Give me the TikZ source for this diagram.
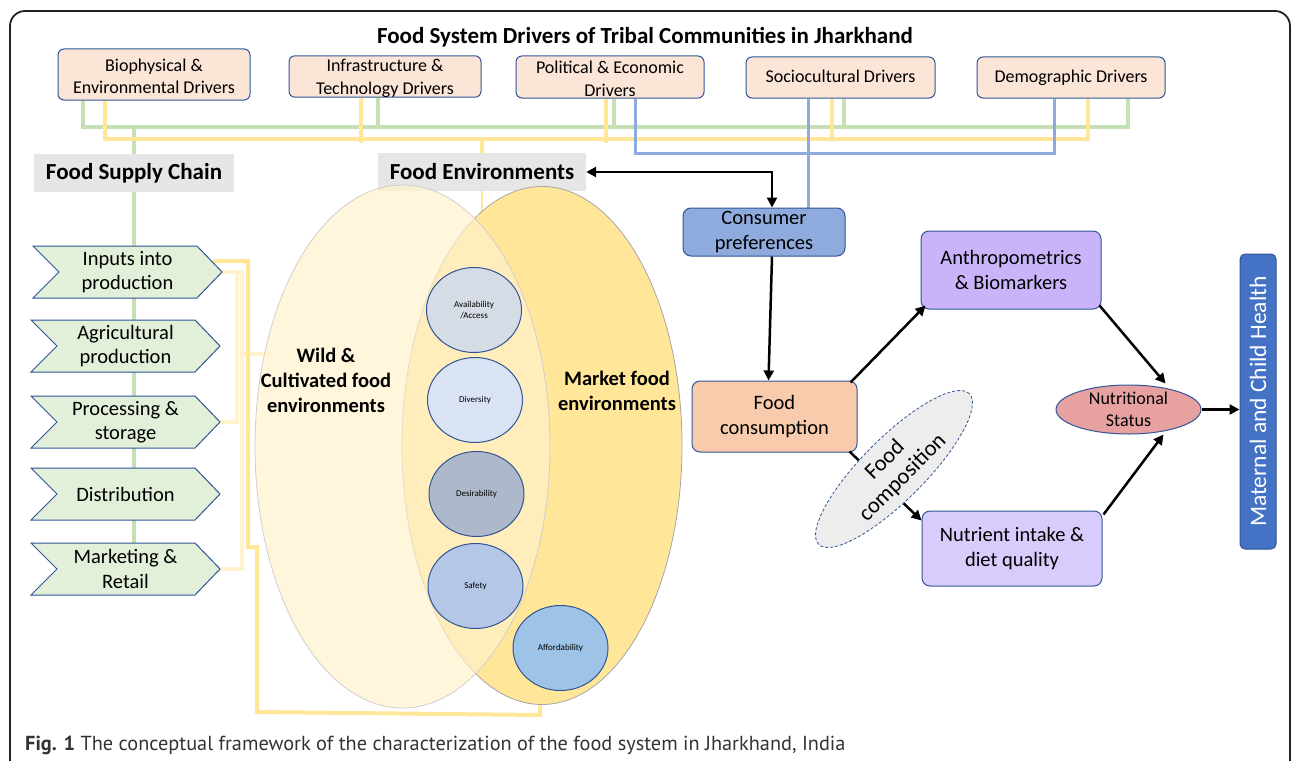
\documentclass[tikz,border=0pt]{standalone}
\usepackage{fontspec}
\setmainfont{Carlito}
\newfontfamily\capfont{PT Sans}
\usetikzlibrary{arrows.meta,shapes.geometric,calc}
\pgfdeclarelayer{bg}
\pgfsetlayers{bg,main}
\definecolor{drvfill}{HTML}{FBE5D6}
\definecolor{bord}{HTML}{2F5597}
\definecolor{chevfill}{HTML}{E2F0D9}
\definecolor{grnline}{HTML}{C5E0B4}
\definecolor{ylwline}{HTML}{FFE699}
\definecolor{ylwpale}{HTML}{FFF2CC}
\definecolor{bluline}{HTML}{8FAADC}
\definecolor{greylbl}{HTML}{E7E6E6}
\definecolor{wildfill}{HTML}{FFF2CC}
\definecolor{wildborder}{HTML}{D0CECE}
\definecolor{mktfill}{HTML}{FFE699}
\definecolor{mktborder}{HTML}{A6A6A6}
\definecolor{avfill}{HTML}{D6DCE5}
\definecolor{divfill}{HTML}{DAE3F3}
\definecolor{desfill}{HTML}{ADB9CA}
\definecolor{saffill}{HTML}{B4C7E7}
\definecolor{afffill}{HTML}{9DC3E6}
\definecolor{cpfill}{HTML}{8FAADC}
\definecolor{fcfill}{HTML}{F8CBAD}
\definecolor{anthfill}{HTML}{C9B4FA}
\definecolor{nutfill}{HTML}{D9CBFB}
\definecolor{nsfill}{HTML}{E7A1A1}
\definecolor{mchfill}{HTML}{4472C4}
\definecolor{compfill}{HTML}{EDEDED}
\definecolor{framecol}{HTML}{222222}
\definecolor{capcol}{HTML}{333333}
\newcommand\mychev[4]{%
  \draw[chevst] (#2,#3) -- ++(164,0) -- ++(25,26) -- ++(-25,26) -- ++(-164,0) -- ++(26,-26) -- cycle;
  \node[chevtxt] (#1) at ({#2+94.5},{#3+26}) {#4};}
\begin{document}
\begin{tikzpicture}[x=1pt,y=-1pt,
  titlest/.style={inner sep=0pt, font=\bfseries\fontsize{23}{28}\selectfont},
  drv/.style={draw=bord, fill=drvfill, rounded corners=6pt, line width=1pt, inner sep=0pt, align=center, font=\fontsize{18}{22.5}\selectfont},
  lbl/.style={fill=greylbl, inner sep=0pt, font=\bfseries\fontsize{23}{28}\selectfont},
  chevst/.style={draw=bord, fill=chevfill, line width=1pt},
  chevtxt/.style={inner sep=0pt, minimum width=189pt, minimum height=52pt, align=center, font=\fontsize{20.5}{24.5}\selectfont},
  grn/.style={draw=grnline, line width=4pt},
  ylw/.style={draw=ylwline, line width=4pt},
  ylwp/.style={draw=ylwpale, line width=4pt},
  blu/.style={draw=bluline, line width=3pt},
  envlbl/.style={inner sep=0pt, align=center, font=\bfseries\fontsize{20.5}{25}\selectfont},
  fact/.style={ellipse, draw=bord, line width=1pt, minimum width=95pt, minimum height=85pt, inner sep=0pt, align=center, font=\fontsize{9}{11}\selectfont},
  box/.style={draw=bord, rounded corners=8pt, line width=1pt, align=center, inner sep=0pt, font=\fontsize{20.5}{25}\selectfont},
  arr/.style={line width=2.5pt, -{Triangle[length=10pt,width=10pt]}},
  arrboth/.style={line width=2.5pt, {Triangle[length=10pt,width=10pt]}-{Triangle[length=10pt,width=10pt]}}
]
\useasboundingbox (0,0) rectangle (1295,760);
\clip (0,0) rectangle (1295,760);
\draw[line width=1.8pt, draw=framecol, rounded corners=15pt] (10,11) rectangle (1290,800);

% title and drivers
\node[titlest] (title) at (645,37) {Food System Drivers of Tribal Communities in Jharkhand};
\node[drv, minimum width=192pt, minimum height=51pt] (d1) at (154,74.5) {\strut Biophysical \&\\Environmental Drivers};
\node[drv, minimum width=192pt, minimum height=41pt] (d2) at (385,76.5) {\strut Infrastructure \&\\Technology Drivers};
\node[drv, minimum width=188pt, minimum height=42pt] (d3) at (610,77) {\strut Political \& Economic\\Drivers};
\node[drv, minimum width=189pt, minimum height=41pt] (d4) at (840.5,77.5) {\strut Sociocultural Drivers};
\node[drv, minimum width=188pt, minimum height=41pt] (d5) at (1071,77.5) {\strut Demographic Drivers};

% section labels
\node[lbl, minimum width=200pt, minimum height=38pt] (fsc) at (134,173) {Food Supply Chain};
\node[lbl, minimum width=208pt, minimum height=38pt] (fe) at (482,172) {Food Environments};

% supply chain
\mychev{c1}{33}{246}{Inputs into\\production}
\mychev{c2}{31}{320}{Agricultural\\production}
\mychev{c3}{31}{396}{Processing \&\\storage}
\mychev{c4}{31}{468}{Distribution}
\mychev{c5}{31}{543}{Marketing \&\\Retail}

% food environments
\node[ellipse, draw=mktborder, fill=mktfill, line width=0.8pt, minimum width=280pt, minimum height=518pt, inner sep=0pt] (mkt) at (542,445.5) {};
\node[ellipse, draw=wildborder, fill=wildfill, fill opacity=0.7, line width=0.8pt, minimum width=295pt, minimum height=523pt, inner sep=0pt] (wild) at (402.5,446.5) {};
\node[envlbl] (wildlbl) at (326,380.5) {Wild \&\\Cultivated food\\environments};
\node[envlbl] (mktlbl) at (617,390.5) {Market food\\environments};
\node[fact, fill=avfill] (av) at (474,310) {Availability\\/Access};
\node[fact, fill=divfill] (div) at (475,400) {Diversity};
\node[fact, fill=desfill] (des) at (476.5,494) {Desirability};
\node[fact, fill=saffill] (saf) at (475.5,586) {Safety};
\node[fact, fill=afffill] (aff) at (560.5,648) {Affordability};

% right side
\node[box, fill=cpfill, minimum width=162pt, minimum height=48pt] (cp) at (764,232) {Consumer\\preferences};
\node[box, fill=fcfill, minimum width=165pt, minimum height=71pt] (fc) at (774.5,416.5) {Food\\consumption};
\node[box, fill=anthfill, minimum width=180pt, minimum height=78pt] (anth) at (1011,270) {Anthropometrics\\\& Biomarkers};
\node[box, fill=nutfill, minimum width=180pt, minimum height=75pt] (nut) at (1012,548.5) {Nutrient intake \&\\diet quality};
\node[ellipse, draw=bord, fill=nsfill, line width=1pt, minimum width=145pt, minimum height=49pt, inner sep=0pt, align=center, font=\fontsize{18}{22}\selectfont] (ns) at (1128.5,409.5) {Nutritional\\Status};
\node[draw=bord, fill=mchfill, rounded corners=5pt, line width=1pt, rotate=90, minimum width=295pt, minimum height=36pt, inner sep=0pt, text=white, font=\fontsize{23.5}{28}\selectfont] (mch) at (1258,401.5) {Maternal and Child Health};

% connector buses (background)
\begin{pgfonlayer}{bg}
\draw[grn] ($(d1.south west)+(25,0)$) |- ($(d5.south west)+(151,28)$) -- ($(d5.south west)+(151,0)$);
\draw[grn] ($(d2.south west)+(89,0)$) -- ++(0,29);
\draw[grn] ($(d3.south west)+(98,0)$) -- ++(0,28);
\draw[grn] ($(d4.south west)+(98,0)$) -- ++(0,28);
\coordinate (gbus) at ($(d1.south west)+(25,26)$);
\draw[grn] (fsc.north |- gbus) -- (fsc.center |- c5.north);
\draw[ylw] ($(d1.south west)+(47,0)$) |- ($(d5.south west)+(111,40)$) -- ($(d5.south west)+(111,0)$);
\draw[ylw] ($(d2.south west)+(72,0)$) -- ++(0,45);
\draw[ylw] ($(d3.south west)+(90,0)$) -- ++(0,44);
\draw[ylw] ($(d4.south west)+(86,0)$) -- ++(0,40);
\coordinate (ybus) at ($(d1.south west)+(47,38)$);
\draw[ylw] (fe.north |- ybus) -- (fe.north);
\draw[ylw, line width=1.2pt] (fe.south) -- ++(0,24);
\draw[blu] ($(d3.south west)+(120,0)$) |- ($(d5.south west)+(78,55)$) -- ($(d5.south west)+(78,0)$);
\draw[blu] ($(d4.south west)+(63,0)$) coordinate (b4) -- (b4 |- cp.north);
\coordinate (pv) at (242,300);
\draw[ylwp] (c1.east) -- (c1.east -| pv) -- (c5.east -| pv) -- (c5.east);
\coordinate (pv2) at (237,272);
\draw[ylwp] (c3.east) -| (pv2);
\coordinate (pj) at (242,354);
\draw[ylwp] (pj) -- ++(30,0);
\coordinate (dk1) at (248,261);
\coordinate (dk2) at (248,547);
\coordinate (dk3) at (257,547);
\coordinate (dk4) at (257,712);
\coordinate (dk5) at (540,715);
\draw[ylw] ($(c1.east)+(-9,-11)$) -- (dk1) -- (dk2) -- (dk3) -- (dk4) -- (dk5) -- ++(0,-20);
\end{pgfonlayer}

% arrows
\draw[arrboth] (fe.east) -| ($(cp.north)+(8,0)$);
\draw[arr] ($(cp.south)+(8,0)$) -- ($(fc.north)+(-6,0)$);
\draw[arr] ($(fc.north east)+(-7,2)$) -- ($(anth.south west)+(5,-4)$);
\draw[arr] ($(anth.south east)+(-2,-4)$) -- ($(ns.north)+(37,-1)$);
\draw[arr] ($(nut.north east)+(1,4)$) -- ($(ns.south)+(35,0)$);
\draw[arr] (ns.east) -- (ns.east -| mch.north);
\draw[arr] ($(fc.south east)+(-8,-1)$) -- ($(nut.north west)+(0,10)$);
\node[ellipse, draw=bord, dash pattern=on 3pt off 2pt, fill=compfill, rotate=45, minimum width=213pt, minimum height=58pt, inner sep=0pt, align=center, line width=0.8pt, font=\fontsize{22.5}{25}\selectfont] (fcomp) at (894,469) {Food\\composition};

% caption
\node[anchor=west, inner sep=0pt, text=capcol, font=\capfont\fontsize{20.3}{24}\selectfont] (cap) at (25,745) {\textbf{Fig. 1} The conceptual framework of the characterization of the food system in Jharkhand, India};
\end{tikzpicture}
\end{document}
